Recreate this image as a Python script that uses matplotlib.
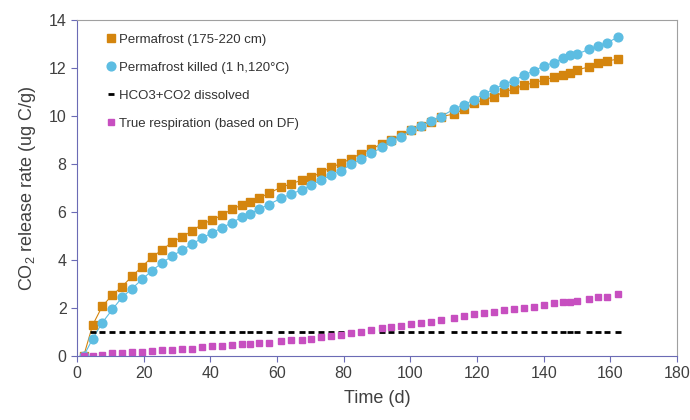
import matplotlib
matplotlib.use("Agg")
import matplotlib.pyplot as plt

plt.rcParams['font.family'] = ['Liberation Sans', 'DejaVu Sans']

# sampling days
days = [2, 4.7, 7.6, 10.6, 13.5, 16.5, 19.5, 22.5, 25.6, 28.6,
        31.6, 34.6, 37.6, 40.6, 43.6, 46.5, 49.4, 51.9, 54.5, 57.5,
        61.2, 64.2, 67.4, 70.2, 73.2, 76.3, 79.2, 82.1, 85.1, 88.3,
        91.4, 94.3, 97.3, 100.3, 103.1, 106.1, 109.1, 113, 116, 119,
        122, 125, 128.2, 131, 134.2, 137.2, 140, 143, 145.8, 148,
        150, 153.7, 156.2, 159, 162.2]

permafrost = [0.0, 1.29, 2.08, 2.54, 2.89, 3.32, 3.72, 4.12, 4.43, 4.75,
              4.97, 5.22, 5.50, 5.67, 5.88, 6.12, 6.29, 6.43, 6.57, 6.78,
              7.03, 7.17, 7.33, 7.44, 7.65, 7.86, 8.03, 8.21, 8.43, 8.63,
              8.83, 9.00, 9.21, 9.42, 9.58, 9.76, 9.97, 10.08, 10.28, 10.53,
              10.67, 10.80, 11.01, 11.12, 11.29, 11.39, 11.50, 11.61, 11.71, 11.80,
              11.92, 12.05, 12.20, 12.29, 12.37]

killed = [0.0, 0.72, 1.39, 1.94, 2.44, 2.81, 3.19, 3.56, 3.89, 4.17,
          4.42, 4.67, 4.92, 5.14, 5.35, 5.56, 5.78, 5.92, 6.11, 6.31,
          6.57, 6.75, 6.92, 7.12, 7.33, 7.54, 7.72, 7.98, 8.19, 8.44,
          8.69, 8.97, 9.14, 9.42, 9.58, 9.80, 9.97, 10.28, 10.46, 10.67,
          10.92, 11.11, 11.33, 11.47, 11.71, 11.89, 12.08, 12.22, 12.40, 12.53,
          12.58, 12.78, 12.93, 13.05, 13.28]

dissolved = [1.0, 1.0, 1.0, 1.0, 1.0, 1.0, 1.0, 1.0, 1.0, 1.0,
             1.0, 1.0, 1.0, 1.0, 1.0, 1.0, 1.0, 1.0, 1.0, 1.0,
             1.0, 1.0, 1.0, 1.0, 1.0, 1.0, 1.0, 1.0, 1.0, 1.0,
             1.0, 1.0, 1.0, 1.0, 1.0, 1.0, 1.0, 1.0, 1.0, 1.0,
             1.0, 1.0, 1.0, 1.0, 1.0, 1.0, 1.0, 1.0, 1.0, 1.0,
             1.0, 1.0, 1.0, 1.0]

respiration = [0.0, 0.02, 0.06, 0.12, 0.13, 0.16, 0.17, 0.22, 0.25, 0.25,
               0.29, 0.31, 0.37, 0.40, 0.42, 0.46, 0.50, 0.51, 0.56, 0.56,
               0.63, 0.66, 0.67, 0.71, 0.79, 0.84, 0.88, 0.94, 0.99, 1.07,
               1.15, 1.19, 1.25, 1.32, 1.39, 1.43, 1.50, 1.57, 1.67, 1.74,
               1.78, 1.85, 1.92, 1.94, 1.99, 2.06, 2.14, 2.19, 2.24, 2.26,
               2.30, 2.36, 2.47, 2.47, 2.57]

labels = ['Permafrost (175-220 cm)', 'Permafrost killed (1 h,120\u00b0C)',
          'HCO3+CO2 dissolved', 'True respiration (based on DF)']

orange = '#D4850E'
blue = '#5DBDE2'
pink = '#C74FC0'
axcol = '#6B6BB5'
txt = '#404040'

fig = plt.figure(figsize=(6.9, 4.2), dpi=100)
ax = fig.add_axes([0.1116, 0.1524, 0.8696, 0.8])

ax.plot(days, permafrost, '-s', color=orange, lw=0.8, ms=5.8, mec=orange, label=labels[0])
ax.plot(days, killed, '-o', color=blue, lw=0.8, ms=6.3, mec=blue, label=labels[1])
ax.plot(days[1:], dissolved, ls='none', marker='_', color='black', ms=4.8, mew=2, label=labels[2])
ax.plot(days, respiration, ls='none', marker='s', color=pink, ms=4.5, mec=pink, label=labels[3])

ax.set_xlim(0, 180)
ax.set_ylim(0, 14)
ax.set_xticks(range(0, 181, 20))
ax.set_yticks(range(0, 15, 2))

for s in ['left', 'bottom']:
    ax.spines[s].set_color(axcol)
for s in ['top', 'right']:
    ax.spines[s].set_color('#A0A0A0')
ax.tick_params(axis='both', colors=axcol, labelcolor=txt, labelsize=11.5,
               length=4, direction='out')
ax.tick_params(top=False, right=False)

ax.set_xlabel('Time (d)', fontsize=13, color=txt, labelpad=6)
ax.set_ylabel(r'CO$_\mathregular{2}$ release rate (ug C/g)', fontsize=13, color=txt, labelpad=8)

leg = ax.legend(loc='upper left', bbox_to_anchor=(0.04, 0.975), frameon=False,
                fontsize=9.5, handlelength=0.7, handletextpad=0.3,
                labelspacing=1.2, borderaxespad=0)
for t in leg.get_texts():
    t.set_color('#333333')
for h in leg.legend_handles:
    h.set_linestyle('none')

fig.savefig('out.png', dpi=100)
